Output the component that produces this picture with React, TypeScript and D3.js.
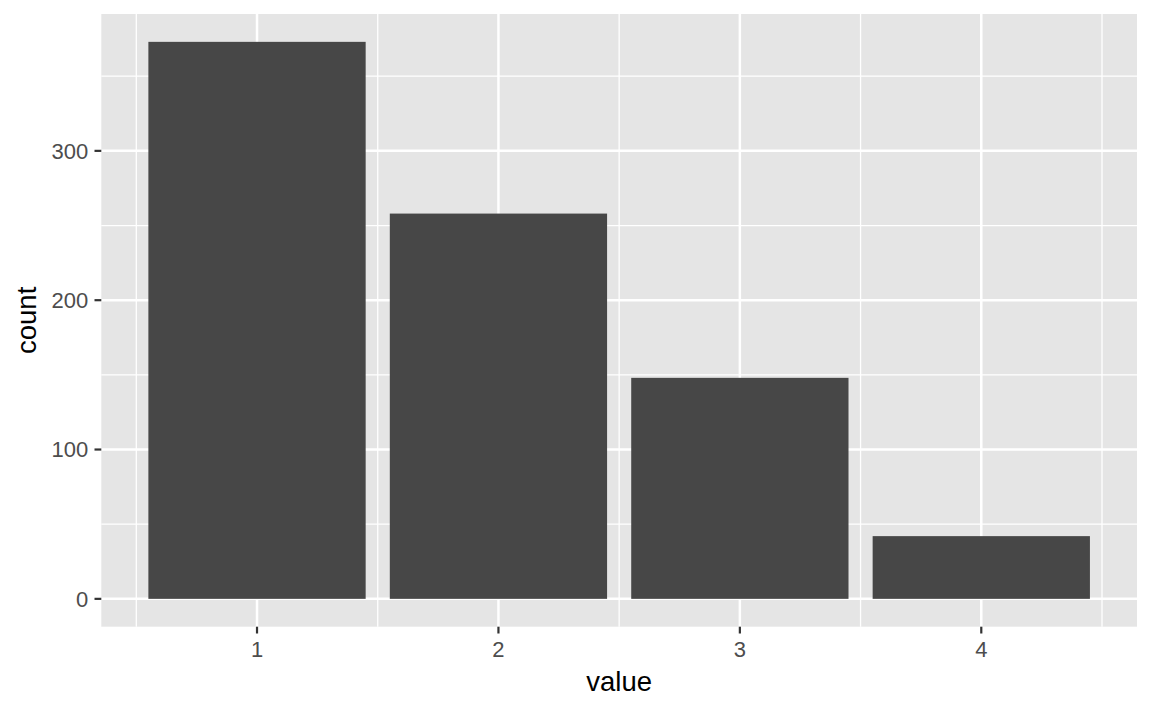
import * as d3 from "d3";

const values = [1, 2, 3, 4];
const counts = [373, 258, 148, 42];
const yTicks = [0, 100, 200, 300];
const yMinor = [50, 150, 250, 350];
const xMinor = [0.5, 1.5, 2.5, 3.5, 4.5];

const W = 1152;
const H = 711;
const m = { top: 14, right: 15, bottom: 84.3, left: 101.3 };
const BAR = 0.9;

export default function App() {
  const xLo = d3.min(values)! - BAR / 2;
  const xHi = d3.max(values)! + BAR / 2;
  const xPad = (xHi - xLo) * 0.05;
  const yMax = d3.max(counts)!;

  const x = d3.scaleLinear().domain([xLo - xPad, xHi + xPad]).range([m.left, W - m.right]);
  const y = d3.scaleLinear().domain([-yMax * 0.05, yMax * 1.05]).range([H - m.bottom, m.top]);

  const font = "'Liberation Sans', Arial, Helvetica, sans-serif";
  const pl = m.left, pr = W - m.right, pt = m.top, pb = H - m.bottom;

  return (
    <svg width={W} height={H} style={{ position: "absolute", left: 0, top: 0, display: "block" }} fontFamily={font}>
      <rect x={0} y={0} width={W} height={H} fill="#fff" />
      <rect x={pl} y={pt} width={pr - pl} height={pb - pt} fill="#e5e5e5" />

      {/* minor grid */}
      {yMinor.map((v) => (
        <line key={`ym${v}`} x1={pl} x2={pr} y1={y(v)} y2={y(v)} stroke="#fff" strokeWidth={1.3} />
      ))}
      {xMinor.map((v) => (
        <line key={`xm${v}`} y1={pt} y2={pb} x1={x(v)} x2={x(v)} stroke="#fff" strokeWidth={1.3} />
      ))}
      {/* major grid */}
      {yTicks.map((v) => (
        <line key={`y${v}`} x1={pl} x2={pr} y1={y(v)} y2={y(v)} stroke="#fff" strokeWidth={2.5} />
      ))}
      {values.map((v) => (
        <line key={`x${v}`} y1={pt} y2={pb} x1={x(v)} x2={x(v)} stroke="#fff" strokeWidth={2.5} />
      ))}

      {/* bars */}
      {values.map((v, i) => (
        <rect
          key={`b${v}`}
          x={x(v - BAR / 2)}
          width={x(v + BAR / 2) - x(v - BAR / 2)}
          y={y(counts[i])}
          height={y(0) - y(counts[i])}
          fill="#474747"
        />
      ))}

      {/* y axis */}
      {yTicks.map((v) => (
        <g key={`yt${v}`}>
          <line x1={pl - 6.8} x2={pl} y1={y(v)} y2={y(v)} stroke="#333" strokeWidth={2.2} />
          <text x={pl - 13} y={y(v)} dy="0.35em" textAnchor="end" fontSize={22} fill="#4d4d4d">
            {v}
          </text>
        </g>
      ))}

      {/* x axis */}
      {values.map((v) => (
        <g key={`xt${v}`}>
          <line x1={x(v)} x2={x(v)} y1={pb} y2={pb + 6.8} stroke="#333" strokeWidth={2.2} />
          <text x={x(v)} y={656.5} textAnchor="middle" fontSize={22} fill="#4d4d4d">
            {v}
          </text>
        </g>
      ))}

      <text x={(pl + pr) / 2} y={691} textAnchor="middle" fontSize={27.5} fill="#000">
        value
      </text>
      <text
        transform={`translate(36,${(pt + pb) / 2}) rotate(-90)`}
        textAnchor="middle"
        fontSize={27.5}
        fill="#000"
      >
        count
      </text>
    </svg>
  );
}
